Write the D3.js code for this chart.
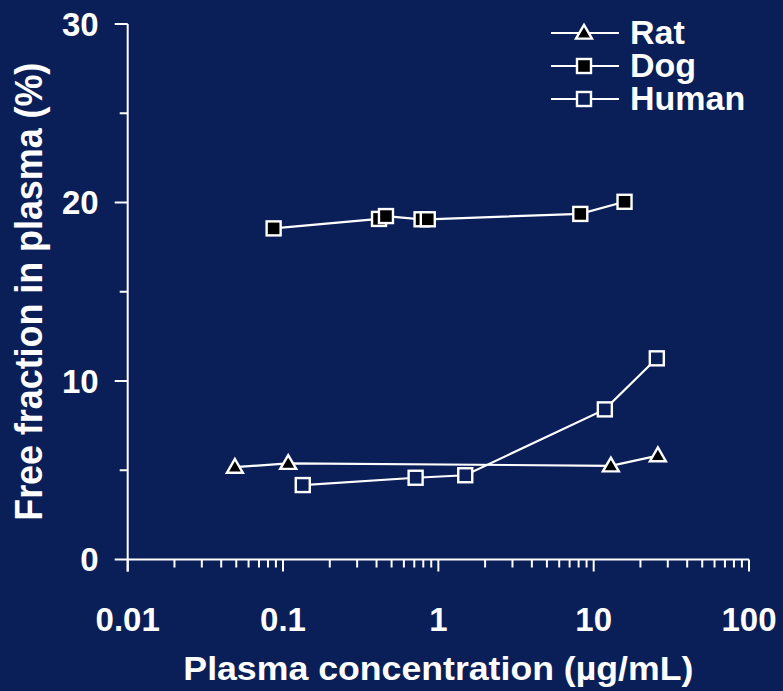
<!DOCTYPE html>
<html>
<head>
<meta charset="utf-8">
<script src="https://cdn.jsdelivr.net/npm/d3@7"></script>
<style>
  html, body { margin: 0; padding: 0; background: #0a1e58; }
  svg { display: block; }
</style>
</head>
<body>
<svg id="drawing_region"></svg>
<script>
// values
const species = ["Rat", "Dog", "Human"];

const rat_conc = [0.049, 0.108, 12.9, 25.9];
const rat_free = [5.17, 5.39, 5.25, 5.82];

const dog_conc = [0.087, 0.415, 0.46, 0.78, 0.855, 8.2, 15.8];
const dog_free = [18.55, 19.08, 19.24, 19.06, 19.06, 19.36, 20.04];

const human_conc = [0.134, 0.714, 1.49, 11.8, 25.5];
const human_free = [4.17, 4.58, 4.72, 8.41, 11.27];

const x_ticks = [0.01, 0.1, 1, 10, 100];
const x_tick_labels = ["0.01", "0.1", "1", "10", "100"];
const y_ticks = [0, 10, 20, 30];
const y_minor = [5, 15, 25];

var config = {
    parent: '#drawing_region',
    width: 783,
    height: 691,
    margin: {top:24, right:34, bottom:131.5, left:127.7},
    bg: '#0a1e58'
};

const series = [
    { name: species[0], conc: rat_conc, free: rat_free, shape: 'triangle', fill: 'black' },
    { name: species[1], conc: dog_conc, free: dog_free, shape: 'square', fill: 'black' },
    { name: species[2], conc: human_conc, free: human_free, shape: 'square', fill: config.bg }
];

class LogPlot {

    constructor( config, data ) {
        this.config = config;
        this.data = data;
        this.init();
    }

    init() {
        let self = this;

        self.svg = d3.select( self.config.parent )
            .attr('width', self.config.width)
            .attr('height', self.config.height);

        self.inner_width = self.config.width - self.config.margin.left - self.config.margin.right;
        self.inner_height = self.config.height - self.config.margin.top - self.config.margin.bottom;

        self.chart = self.svg.append('g')
            .attr('transform', `translate(${self.config.margin.left}, ${self.config.margin.top})`);

        self.xscale = d3.scaleLog()
            .domain([0.01, 100])
            .range([0, self.inner_width]);

        self.yscale = d3.scaleLinear()
            .domain([0, 30])
            .range([self.inner_height, 0]);
    }

    update() {
        let self = this;
        self.render();
    }

    marker( sel, shape, fill ) {
        if (shape == 'triangle') {
            sel.append('path')
                .attr('d', d3.symbol().type(d3.symbolTriangle).size(110))
                .attr('transform', 'translate(0,1)');
        } else {
            sel.append('rect')
                .attr('x', -7).attr('y', -7)
                .attr('width', 14).attr('height', 14);
        }
        sel.selectAll('path, rect')
            .attr('fill', fill)
            .attr('stroke', 'white')
            .attr('stroke-width', 2.4);
    }

    render() {
        let self = this;
        const font = "'Liberation Sans', Arial, sans-serif";

        // x axis: major + minor ticks
        const minor_x = [];
        for (let e = -2; e < 2; e++) {
            for (let m = 2; m <= 9; m++) minor_x.push(m * Math.pow(10, e));
        }

        const xaxis = self.chart.append('g')
            .attr('transform', `translate(0, ${self.inner_height})`);

        xaxis.append('line')
            .attr('x1', 0).attr('x2', self.inner_width)
            .attr('stroke', 'white').attr('stroke-width', 2);

        xaxis.selectAll('.xmaj')
            .data(x_ticks)
            .enter()
            .append('line')
            .attr('x1', d => self.xscale(d)).attr('x2', d => self.xscale(d))
            .attr('y1', 0).attr('y2', 12)
            .attr('stroke', 'white').attr('stroke-width', 2);

        xaxis.selectAll('.xmin')
            .data(minor_x)
            .enter()
            .append('line')
            .attr('x1', d => self.xscale(d)).attr('x2', d => self.xscale(d))
            .attr('y1', 0).attr('y2', 8)
            .attr('stroke', 'white').attr('stroke-width', 2);

        xaxis.selectAll('.xlab')
            .data(x_ticks)
            .enter()
            .append('text')
            .attr('x', d => self.xscale(d))
            .attr('y', 71)
            .attr('text-anchor', 'middle')
            .attr('fill', 'white')
            .attr('font-family', font)
            .attr('font-weight', 700)
            .attr('font-size', '33px')
            .text((d, i) => x_tick_labels[i]);

        // y axis
        const yaxis = self.chart.append('g');

        yaxis.append('line')
            .attr('y1', 0).attr('y2', self.inner_height + 12)
            .attr('stroke', 'white').attr('stroke-width', 2);

        yaxis.selectAll('.ymaj')
            .data(y_ticks)
            .enter()
            .append('line')
            .attr('x1', -13).attr('x2', 0)
            .attr('y1', d => self.yscale(d)).attr('y2', d => self.yscale(d))
            .attr('stroke', 'white').attr('stroke-width', 2);

        yaxis.selectAll('.ymin')
            .data(y_minor)
            .enter()
            .append('line')
            .attr('x1', -8).attr('x2', 0)
            .attr('y1', d => self.yscale(d)).attr('y2', d => self.yscale(d))
            .attr('stroke', 'white').attr('stroke-width', 2);

        yaxis.selectAll('.ylab')
            .data(y_ticks)
            .enter()
            .append('text')
            .attr('x', -29)
            .attr('y', d => self.yscale(d))
            .attr('dy', '0.36em')
            .attr('text-anchor', 'end')
            .attr('fill', 'white')
            .attr('font-family', font)
            .attr('font-weight', 700)
            .attr('font-size', '33px')
            .text(d => d);

        // lines and markers
        const line = d3.line()
            .x(d => self.xscale(d[0]))
            .y(d => self.yscale(d[1]));

        self.data.forEach(s => {
            const pts = s.conc.map((c, i) => [c, s.free[i]]);

            self.chart.append('path')
                .datum(pts)
                .attr('d', line)
                .attr('fill', 'none')
                .attr('stroke', 'white')
                .attr('stroke-width', 2.2);

            pts.forEach(p => {
                const g = self.chart.append('g')
                    .attr('transform', `translate(${self.xscale(p[0])}, ${self.yscale(p[1])})`);
                self.marker(g, s.shape, s.fill);
            });
        });

        // axis titles
        self.svg.append('text')
            .attr('x', self.config.margin.left + self.inner_width / 2)
            .attr('y', 680)
            .attr('text-anchor', 'middle')
            .attr('fill', 'white')
            .attr('font-family', font)
            .attr('font-weight', 700)
            .attr('font-size', '34px')
            .attr('textLength', 510)
            .attr('lengthAdjust', 'spacingAndGlyphs')
            .text('Plasma concentration (µg/mL)');

        self.svg.append('text')
            .attr('transform', `translate(42, ${self.config.margin.top + self.inner_height / 2}) rotate(-90)`)
            .attr('text-anchor', 'middle')
            .attr('fill', 'white')
            .attr('font-family', font)
            .attr('font-weight', 700)
            .attr('font-size', '38px')
            .attr('textLength', 458)
            .attr('lengthAdjust', 'spacingAndGlyphs')
            .text('Free fraction in plasma (%)');

        // legend
        const legend = self.svg.append('g')
            .attr('transform', 'translate(551, 33)');

        self.data.forEach((s, i) => {
            const row = legend.append('g')
                .attr('transform', `translate(0, ${i * 33})`);
            row.append('line')
                .attr('x1', 0).attr('x2', 68)
                .attr('stroke', 'white').attr('stroke-width', 2.2);
            const m = row.append('g').attr('transform', 'translate(33, 0)');
            self.marker(m, s.shape, s.fill);
            row.append('text')
                .attr('x', 79)
                .attr('y', 11)
                .attr('fill', 'white')
                .attr('font-family', font)
                .attr('font-weight', 700)
                .attr('font-size', '34px')
                .text(s.name);
        });
    }
}

const plot = new LogPlot( config, series );
plot.update();
</script>
</body>
</html>
